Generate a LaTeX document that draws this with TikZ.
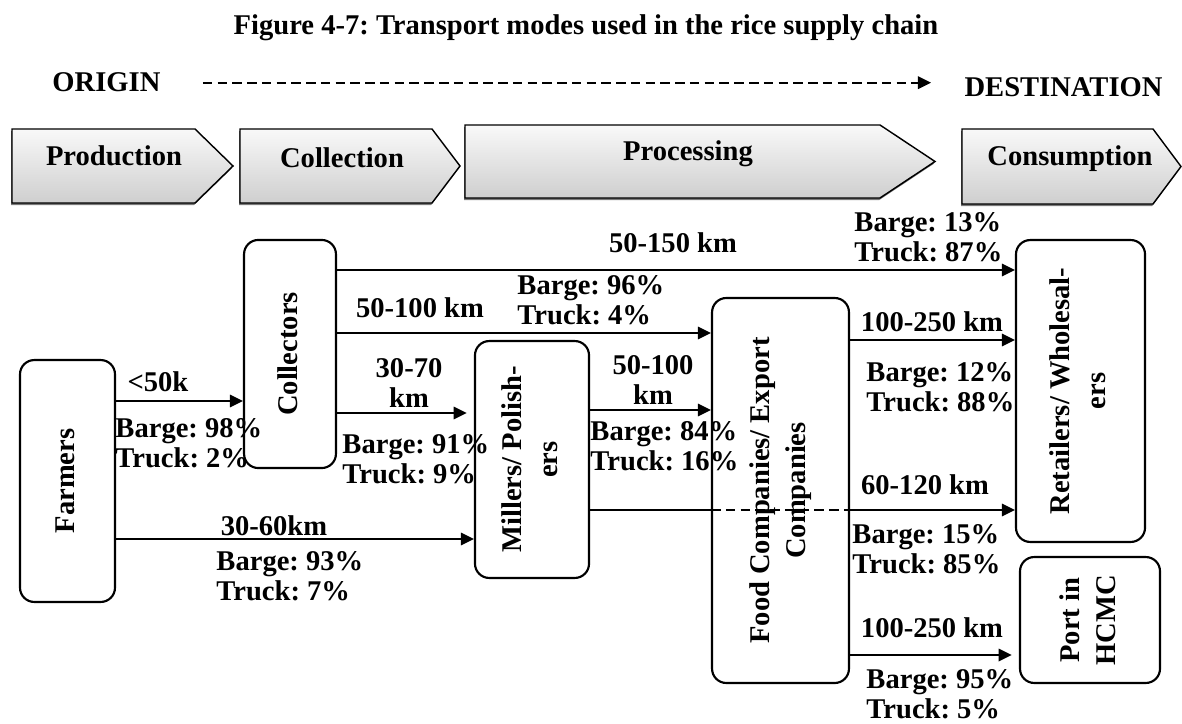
\documentclass[tikz,border=0pt]{standalone}
\usepackage{fontspec}
\setmainfont{Liberation Serif}
\usepackage{graphicx}
\usetikzlibrary{arrows.meta,positioning,shadows}
\frenchspacing

\newcommand{\vlabel}[1]{\rotatebox{90}{\fontsize{12}{15}\selectfont\begin{tabular}{@{}c@{}}#1\end{tabular}}}

\tikzset{
  box/.style   = {draw, rounded corners=6pt, line width=0.9pt, inner sep=0pt},
  stage/.style = {draw, line width=0.6pt, top color=gray!5, bottom color=gray!38,
                  drop shadow={shadow xshift=-0.4pt, shadow yshift=-0.9pt,
                               fill=black!75, opacity=0.7}},
  ar/.style    = {-{Triangle[length=5.5pt,width=5.2pt]}, line width=0.9pt},
  ln/.style    = {line width=0.9pt},
  dsh/.style   = {dash pattern=on 4pt off 2.2pt},
  lbl/.style   = {align=left, anchor=west, inner sep=0pt},
  dist/.style  = {align=center, inner sep=0pt},
}

\begin{document}
\begin{tikzpicture}[x=0.42pt, y=-0.42pt,
    every node/.append style={font=\fontsize{12}{12.6}\selectfont\bfseries}]
  \useasboundingbox (0,0) rectangle (1182,724);
  % title and direction
  \node[anchor=base, inner sep=0pt] (title) at (586,35)
       {Figure 4-7: Transport modes used in the rice supply chain};
  \node[anchor=base west, inner sep=0pt] (orig) at (52,92) {ORIGIN};
  \node[anchor=base east, inner sep=0pt] (dest) at (1163,97) {DESTINATION};
  \draw[ar, dsh, shorten <=17.6pt, shorten >=13.9pt]
       (orig.east) -- (orig.east -| dest.west);
  % stages
  \foreach \xa/\xb/\xc/\yt/\yb/\tx/\ty/\t in {12/195/233/129/203/114/166/Production,
      240/432/460/129/203/342/168/Collection,
      465/880/935/125/198/688/161/Processing,
      962/1153/1181/129/204/1070/166/Consumption}{
    \path[stage] (\xa,\yt) -- (\xb,\yt) -- (\xc,{(\yt+\yb)/2}) -- (\xb,\yb)
                 -- (\xa,\yb) -- cycle;
    \node[anchor=base, inner sep=0pt] at (\tx,\ty) {\t};
  }
  % actors
  \node[box, minimum width=39.9pt, minimum height=101.6pt] (farm) at (67.5,481)
       {\vlabel{Farmers}};
  \node[box, minimum width=38.6pt, minimum height=95.8pt] (coll) at (290,354)
       {\vlabel{Collectors}};
  \node[box, minimum width=47.9pt, minimum height=99.5pt] (mill) at (532,459.5)
       {\vlabel{Millers/ Polish-\\ers}};
  \node[box, minimum width=57.5pt, minimum height=161.7pt] (food) at (780.5,490.5)
       {\vlabel{Food Companies/ Export\\Companies}};
  \node[box, minimum width=54.2pt, minimum height=126.8pt] (ret) at (1080.5,391)
       {\vlabel{Retailers/ Wholesal-\\ers}};
  \node[box, minimum width=58.8pt, minimum height=52.9pt] (port) at (1090,620)
       {\vlabel{Port in\\HCMC}};
  % flows
  \draw[ar] (farm.east |- 0,401) -- (coll.west |- 0,401);
  \draw[ar] (farm.east |- 0,539) -- (mill.west |- 0,539);
  \draw[ar, shorten >=3pt] (coll.east |- 0,413) -- (mill.west |- 0,413);
  \draw[ar] (coll.east |- 0,333) -- (food.west |- 0,333);
  \draw[ar] (coll.east |- 0,270) -- (ret.west |- 0,270);
  \draw[ar] (mill.east |- 0,410) -- (food.west |- 0,410);
  \draw[ar] (food.east |- 0,340) -- (ret.west |- 0,340);
  \draw[ln] (mill.east |- 0,510) -- (food.west |- 0,510);
  \draw[ln, dsh] (food.west |- 0,510) -- (food.east |- 0,510);
  \draw[ar] (food.east |- 0,510) -- (ret.west |- 0,510);
  \draw[ar, shorten >=3pt] (food.east |- 0,655) -- (port.west |- 0,655);
  % distances
  \node[dist] at (158,382) {<50k};
  \node[dist] at (274,526) {30-60km};
  \node[dist] at (409,382.5) {30-70\\km};
  \node[dist] at (420,308) {50-100 km};
  \node[dist] at (673,243) {50-150 km};
  \node[dist] at (653,380) {50-100\\km};
  \node[dist] at (932,322) {100-250 km};
  \node[dist] at (925,485) {60-120 km};
  \node[dist] at (932,628) {100-250 km};
  % modal split
  \node[lbl] at (115,443) {Barge: 98\%\\Truck: 2\%};
  \node[lbl] at (216,576) {Barge: 93\%\\Truck: 7\%};
  \node[lbl] at (342,459.5) {Barge: 91\%\\Truck: 9\%};
  \node[lbl] at (517,300) {Barge: 96\%\\Truck: 4\%};
  \node[lbl] at (854,237.5) {Barge: 13\%\\Truck: 87\%};
  \node[lbl] at (590,446) {Barge: 84\%\\Truck: 16\%};
  \node[lbl] at (866,387) {Barge: 12\%\\Truck: 88\%};
  \node[lbl] at (852,549) {Barge: 15\%\\Truck: 85\%};
  \node[lbl] at (866,694) {Barge: 95\%\\Truck: 5\%};
\end{tikzpicture}
\end{document}
